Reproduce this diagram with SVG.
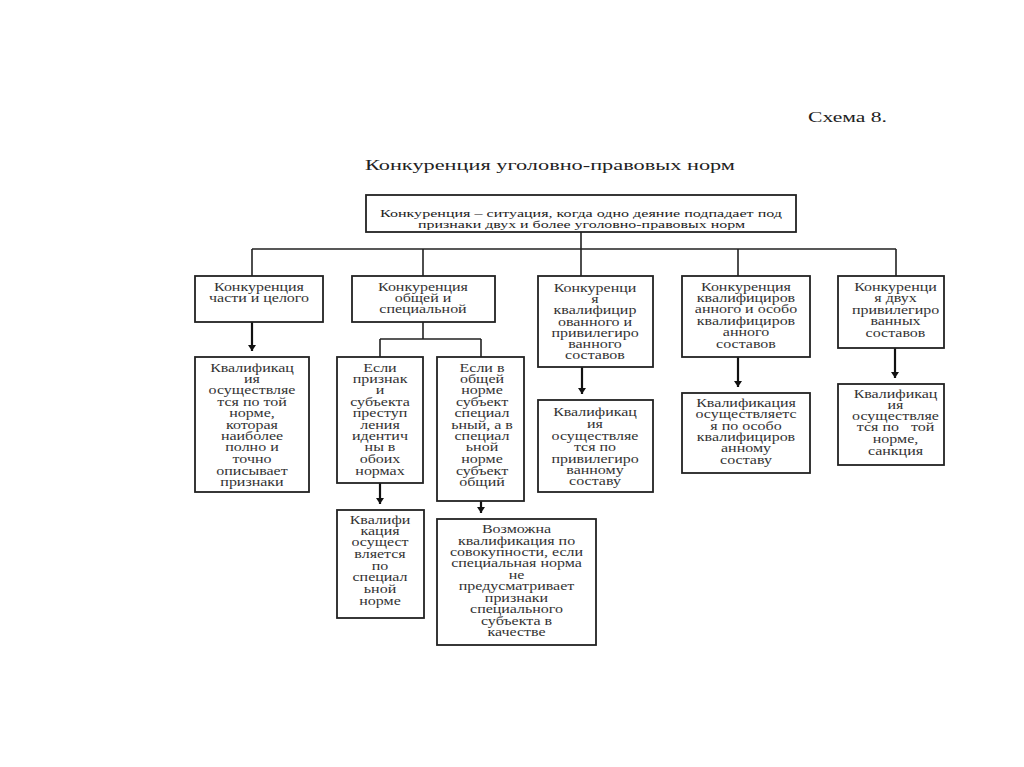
<svg xmlns="http://www.w3.org/2000/svg" width="1024" height="767" viewBox="0 0 1024 767">
<style>
.bx{fill:#fff;stroke:#222;stroke-width:1.8}
.ln{fill:none;stroke:#222;stroke-width:1.6}
.ar{fill:none;stroke:#111;stroke-width:2.2}
.t{font-family:"Liberation Serif","Times New Roman",serif;font-size:11.5px;fill:#333;text-anchor:middle}
.h{font-family:"Liberation Serif","Times New Roman",serif;fill:#222}
</style>
<defs>
<marker id="ah" markerUnits="userSpaceOnUse" markerWidth="10" markerHeight="8" refX="6" refY="4" orient="auto">
<path d="M0,0 L6,4 L0,8 z" fill="#111"/>
</marker>
</defs>
<rect width="1024" height="767" fill="#fff"/>
<text class="h" x="808" y="122" font-size="15.5" textLength="79" lengthAdjust="spacingAndGlyphs">Схема 8.</text>
<text class="h" x="365" y="170" font-size="15.5" textLength="370" lengthAdjust="spacingAndGlyphs">Конкуренция уголовно-правовых норм</text>

<g id="connectors">
<path class="ln" d="M581,232 V249 M252,249 H896 M252,249 V276 M423,249 V276 M581,249 V276 M738,249 V276 M896,249 V276"/>
<path class="ln" d="M423,322 V339 M380,339 H481 M380,339 V357 M481,339 V357"/>
<path class="ar" marker-end="url(#ah)" d="M252,322 V351"/>
<path class="ar" marker-end="url(#ah)" d="M380,483 V504"/>
<path class="ar" marker-end="url(#ah)" d="M481,501 V513"/>
<path class="ar" marker-end="url(#ah)" d="M582,367 V394"/>
<path class="ar" marker-end="url(#ah)" d="M738,357 V387"/>
<path class="ar" marker-end="url(#ah)" d="M895,348 V378"/>
</g>

<g id="root">
<rect class="bx" x="366" y="195" width="430" height="37"/>
<text class="h" font-size="10.5" x="380" y="217" textLength="402" lengthAdjust="spacingAndGlyphs" fill="#333">Конкуренция – ситуация, когда одно деяние подпадает под</text>
<text class="h" font-size="10.5" x="418" y="227.5" textLength="327" lengthAdjust="spacingAndGlyphs" fill="#333">признаки двух и более уголовно-правовых норм</text>
</g>

<g id="n1">
<rect class="bx" x="195" y="276" width="128" height="46"/>
<text class="t" transform="translate(259 0) scale(1.39 1)"><tspan x="0" y="291">Конкуренция</tspan><tspan x="0" y="302">части и целого</tspan></text>
</g>

<g id="n2">
<rect class="bx" x="352" y="276" width="143" height="46"/>
<text class="t" transform="translate(423 0) scale(1.39 1)"><tspan x="0" y="291">Конкуренция</tspan><tspan x="0" y="302">общей и</tspan><tspan x="0" y="313">специальной</tspan></text>
</g>

<g id="n3">
<rect class="bx" x="538" y="276" width="115" height="91"/>
<text class="t" transform="translate(595 0) scale(1.39 1)"><tspan x="0" y="292">Конкуренци</tspan><tspan x="0" y="303">я</tspan><tspan x="0" y="314.5">квалифицир</tspan><tspan x="0" y="326">ованного и</tspan><tspan x="0" y="337">привилегиро</tspan><tspan x="0" y="348.5">ванного</tspan><tspan x="0" y="359.5">составов</tspan></text>
</g>

<g id="n4">
<rect class="bx" x="682" y="276" width="128" height="81"/>
<text class="t" transform="translate(746 0) scale(1.39 1)"><tspan x="0" y="291">Конкуренция</tspan><tspan x="0" y="302.5">квалифициров</tspan><tspan x="0" y="313.5">анного и особо</tspan><tspan x="0" y="325">квалифициров</tspan><tspan x="0" y="336.5">анного</tspan><tspan x="0" y="348">составов</tspan></text>
</g>

<g id="n5">
<rect class="bx" x="838" y="276" width="106" height="72"/>
<text class="t" transform="translate(895.5 0) scale(1.39 1)"><tspan x="0" y="291">Конкуренци</tspan><tspan x="0" y="302.5">я двух</tspan><tspan x="0" y="314">привилегиро</tspan><tspan x="0" y="325.5">ванных</tspan><tspan x="0" y="337">составов</tspan></text>
</g>

<g id="n1a">
<rect class="bx" x="195" y="357" width="114" height="135"/>
<text class="t" transform="translate(252 0) scale(1.39 1)"><tspan x="0" y="372">Квалификац</tspan><tspan x="0" y="383">ия</tspan><tspan x="0" y="394.5">осуществляе</tspan><tspan x="0" y="406">тся по той</tspan><tspan x="0" y="417.5">норме,</tspan><tspan x="0" y="429">которая</tspan><tspan x="0" y="440">наиболее</tspan><tspan x="0" y="451.5">полно и</tspan><tspan x="0" y="463">точно</tspan><tspan x="0" y="475">описывает</tspan><tspan x="0" y="486">признаки</tspan></text>
</g>

<g id="n2a">
<rect class="bx" x="337" y="357" width="86" height="126"/>
<text class="t" transform="translate(380 0) scale(1.39 1)"><tspan x="0" y="372">Если</tspan><tspan x="0" y="383">признак</tspan><tspan x="0" y="394.5">и</tspan><tspan x="0" y="406">субъекта</tspan><tspan x="0" y="417.5">преступ</tspan><tspan x="0" y="429">ления</tspan><tspan x="0" y="440">идентич</tspan><tspan x="0" y="451.5">ны в</tspan><tspan x="0" y="463">обоих</tspan><tspan x="0" y="475">нормах</tspan></text>
</g>

<g id="n2b">
<rect class="bx" x="437" y="357" width="87" height="144"/>
<text class="t" transform="translate(482 0) scale(1.39 1)"><tspan x="0" y="372">Если в</tspan><tspan x="0" y="383">общей</tspan><tspan x="0" y="394.5">норме</tspan><tspan x="0" y="406">субъект</tspan><tspan x="0" y="417.5">специал</tspan><tspan x="0" y="429">ьный, а в</tspan><tspan x="0" y="440">специал</tspan><tspan x="0" y="451.5">ьной</tspan><tspan x="0" y="463">норме</tspan><tspan x="0" y="475">субъект</tspan><tspan x="0" y="486">общий</tspan></text>
</g>

<g id="n2c">
<rect class="bx" x="337" y="510" width="87" height="108"/>
<text class="t" transform="translate(380 0) scale(1.39 1)"><tspan x="0" y="524">Квалифи</tspan><tspan x="0" y="535.5">кация</tspan><tspan x="0" y="546.5">осущест</tspan><tspan x="0" y="558">вляется</tspan><tspan x="0" y="570">по</tspan><tspan x="0" y="581.5">специал</tspan><tspan x="0" y="593">ьной</tspan><tspan x="0" y="605">норме</tspan></text>
</g>

<g id="n2d">
<rect class="bx" x="437" y="519" width="159" height="126"/>
<text class="t" transform="translate(516.5 0) scale(1.39 1)"><tspan x="0" y="533.5">Возможна</tspan><tspan x="0" y="545">квалификация по</tspan><tspan x="0" y="556">совокупности, если</tspan><tspan x="0" y="567.5">специальная норма</tspan><tspan x="0" y="579">не</tspan><tspan x="0" y="590.5">предусматривает</tspan><tspan x="0" y="602">признаки</tspan><tspan x="0" y="613.5">специального</tspan><tspan x="0" y="625">субъекта в</tspan><tspan x="0" y="636.5">качестве</tspan></text>
</g>

<g id="n3a">
<rect class="bx" x="538" y="400" width="115" height="92"/>
<text class="t" transform="translate(595 0) scale(1.39 1)"><tspan x="0" y="416.5">Квалификац</tspan><tspan x="0" y="428">ия</tspan><tspan x="0" y="440">осуществляе</tspan><tspan x="0" y="451.5">тся по</tspan><tspan x="0" y="463">привилегиро</tspan><tspan x="0" y="474">ванному</tspan><tspan x="0" y="485">составу</tspan></text>
</g>

<g id="n4a">
<rect class="bx" x="682" y="393" width="128" height="80"/>
<text class="t" transform="translate(746 0) scale(1.39 1)"><tspan x="0" y="407.5">Квалификация</tspan><tspan x="0" y="418.5">осуществляетс</tspan><tspan x="0" y="430">я по особо</tspan><tspan x="0" y="441">квалифициров</tspan><tspan x="0" y="452.5">анному</tspan><tspan x="0" y="464">составу</tspan></text>
</g>

<g id="n5a">
<rect class="bx" x="838" y="384" width="106" height="81"/>
<text class="t" transform="translate(895.5 0) scale(1.39 1)"><tspan x="0" y="398.5">Квалификац</tspan><tspan x="0" y="409">ия</tspan><tspan x="0" y="420">осуществляе</tspan><tspan x="0" y="431.5">тся по&#160;&#160; той</tspan><tspan x="0" y="443.5">норме,</tspan><tspan x="0" y="455">санкция</tspan></text>
</g>
</svg>
